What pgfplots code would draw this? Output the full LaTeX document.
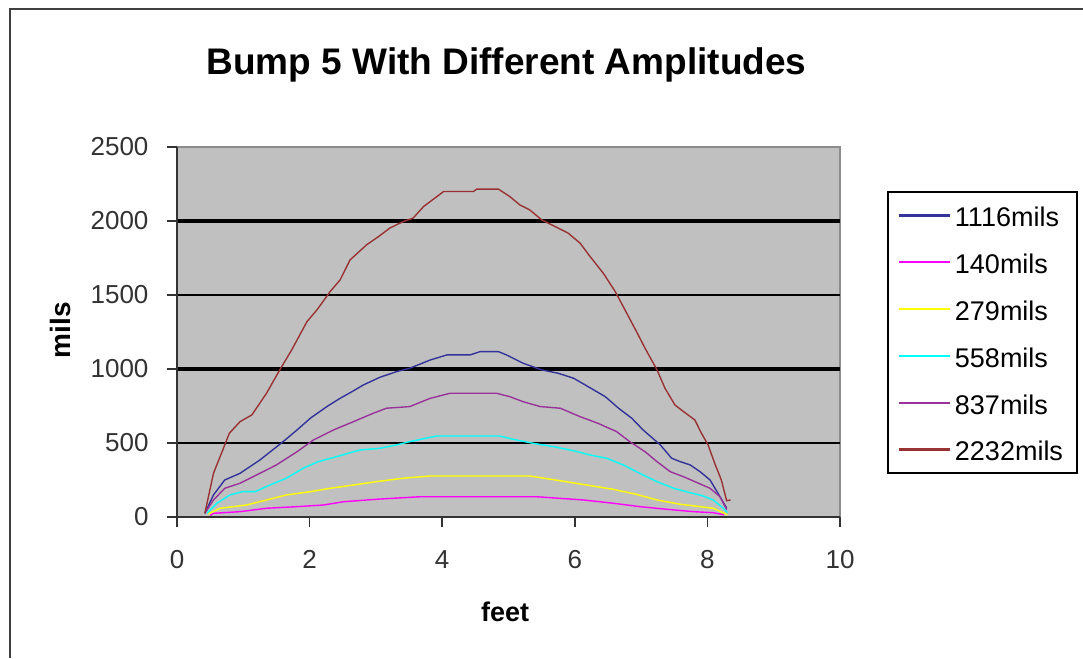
\documentclass[border=0pt]{standalone}
\usepackage{pgfplots}
\pgfplotsset{compat=1.18}
\usepackage{fontspec}
\setmainfont{Liberation Sans}
\definecolor{cNavy}{RGB}{51,51,153}
\definecolor{cMag}{RGB}{255,0,255}
\definecolor{cYel}{RGB}{255,255,0}
\definecolor{cCyan}{RGB}{0,255,255}
\definecolor{cPurp}{RGB}{153,51,153}
\definecolor{cRed}{RGB}{153,51,51}
\definecolor{plotbg}{RGB}{192,192,192}
\definecolor{tickgray}{RGB}{50,50,50}
\begin{document}
\begin{tikzpicture}
\path[use as bounding box] (0pt,0pt) rectangle (1083pt,658pt);
\draw[line width=2.5pt, color=black!75] (10pt,0pt) -- (10pt,649pt) -- (1083pt,649pt);
\begin{axis}[
  at={(177pt,141pt)}, anchor=south west,
  width=663pt, height=370pt, scale only axis,
  xmin=0, xmax=10, ymin=0, ymax=2500,
  xtick={0,2,4,6,8,10},
  ytick={500,1000,1500,2000},
  extra y ticks={0,2500},
  extra y tick style={grid=none},
  minor ytick={1000,2000},
  ymajorgrids, yminorgrids,
  major grid style={black, line width=1.6pt},
  minor grid style={black, line width=3.2pt},
  axis lines*=left,
  axis line style={-, black!80, line width=1.6pt},
  axis background/.style={fill=plotbg, draw=black!45, line width=2pt},
  tick align=outside,
  major tick length=10pt,
  minor tick length=10pt,
  x tick style={black!80, line width=1.6pt},
  y tick style={black!80, line width=1.6pt},
  /pgf/number format/assume math mode=true,
  /pgf/number format/set thousands separator={},
  tick label style={font=\fontsize{26}{30}\selectfont, text=tickgray},
  yticklabel style={xshift=-15pt},
  xticklabel style={yshift=-20pt},
  title={Bump 5 With Different Amplitudes},
  title style={font=\fontsize{37}{44}\selectfont\bfseries, at={(axis description cs:0.497,1.205)}, anchor=center},
  xlabel={feet},
  xlabel style={font=\fontsize{27}{32}\selectfont\bfseries, at={(axis description cs:0.495,-0.257)}, anchor=center},
  ylabel={mils},
  ylabel style={font=\fontsize{28}{32}\selectfont\bfseries, at={(axis description cs:-0.175,0.505)}, anchor=center, rotate=0},
  legend style={at={(axis description cs:1.359,0.881)}, anchor=north east,
    draw=black, line width=2pt, fill=white,
    font=\fontsize{27}{32}\selectfont,
    inner xsep=10pt, inner ysep=0pt,
    nodes={text height=23.5pt, text depth=0.5pt, inner ysep=11.4pt, inner xsep=4pt},
    legend cell align=left},
  legend image code/.code={\draw[#1, line width=2.2pt] (0pt,0pt) -- (51pt,0pt);},
  every axis plot/.append style={line width=1.4pt},
]
\addplot[cNavy] coordinates {(0.42,25) (0.55,149) (0.72,250) (0.95,295) (1.25,385) (1.60,509) (1.81,588) (2.01,667) (2.26,746) (2.46,802) (2.64,847) (2.81,892) (3.06,944) (3.31,982) (3.51,1005) (3.82,1061) (4.07,1095) (4.42,1095) (4.57,1117) (4.85,1117) (4.97,1095) (5.22,1039) (5.50,994) (5.75,971) (5.98,938) (6.20,881) (6.46,813) (6.66,735) (6.86,667) (7.03,588) (7.29,487) (7.46,397) (7.59,374) (7.74,352) (7.89,306) (8.04,250) (8.16,160) (8.29,60)};
\addlegendentry{1116mils}
\addplot[cMag] coordinates {(0.50,10) (0.55,25) (0.95,36) (1.35,59) (1.81,70) (2.21,81) (2.51,103) (3.01,120) (3.67,137) (5.42,137) (6.13,115) (6.58,93) (6.98,70) (7.39,52) (7.79,36) (8.09,29) (8.25,15)};
\addlegendentry{140mils}
\addplot[cYel] coordinates {(0.47,20) (0.65,59) (1.05,81) (1.35,115) (1.65,149) (2.01,171) (2.31,194) (2.66,216) (3.01,239) (3.41,262) (3.82,277) (5.32,277) (5.78,245) (6.18,216) (6.58,187) (6.93,153) (7.24,115) (7.59,86) (7.89,70) (8.09,59) (8.24,29) (8.30,15)};
\addlegendentry{279mils}
\addplot[cCyan] coordinates {(0.45,25) (0.60,93) (0.80,149) (0.98,171) (1.18,171) (1.40,216) (1.65,262) (1.90,329) (2.13,374) (2.41,408) (2.76,453) (3.06,464) (3.31,487) (3.51,509) (3.91,547) (4.87,547) (5.07,525) (5.37,498) (5.68,475) (5.98,448) (6.23,419) (6.48,397) (6.73,352) (6.98,295) (7.24,239) (7.49,194) (7.74,164) (7.94,142) (8.09,115) (8.24,59) (8.30,30)};
\addlegendentry{558mils}
\addplot[cPurp] coordinates {(0.42,25) (0.55,115) (0.72,194) (0.95,228) (1.25,295) (1.50,352) (1.81,441) (2.06,521) (2.36,588) (2.66,644) (2.96,701) (3.16,735) (3.51,746) (3.82,802) (4.12,836) (4.82,836) (5.02,813) (5.22,779) (5.48,746) (5.78,735) (6.08,678) (6.35,633) (6.63,577) (6.83,509) (7.06,441) (7.24,374) (7.44,306) (7.64,272) (7.81,239) (8.04,194) (8.19,137) (8.29,50)};
\addlegendentry{837mils}
\addplot[cRed] coordinates {(0.42,25) (0.55,295) (0.67,430) (0.79,566) (0.95,644) (1.13,690) (1.35,836) (1.55,994) (1.73,1129) (1.96,1320) (2.11,1399) (2.31,1523) (2.46,1602) (2.61,1737) (2.86,1839) (3.04,1895) (3.21,1952) (3.41,1996) (3.56,2019) (3.72,2098) (4.02,2199) (4.47,2199) (4.52,2215) (4.85,2215) (5.02,2165) (5.17,2109) (5.32,2075) (5.50,2008) (5.75,1952) (5.90,1918) (6.08,1850) (6.23,1760) (6.43,1647) (6.61,1523) (6.73,1422) (6.93,1253) (7.06,1140) (7.24,994) (7.36,870) (7.51,757) (7.64,712) (7.81,656) (7.91,566) (8.01,487) (8.11,363) (8.21,250) (8.29,110) (8.35,115)};
\addlegendentry{2232mils}
\end{axis}
\end{tikzpicture}
\end{document}
